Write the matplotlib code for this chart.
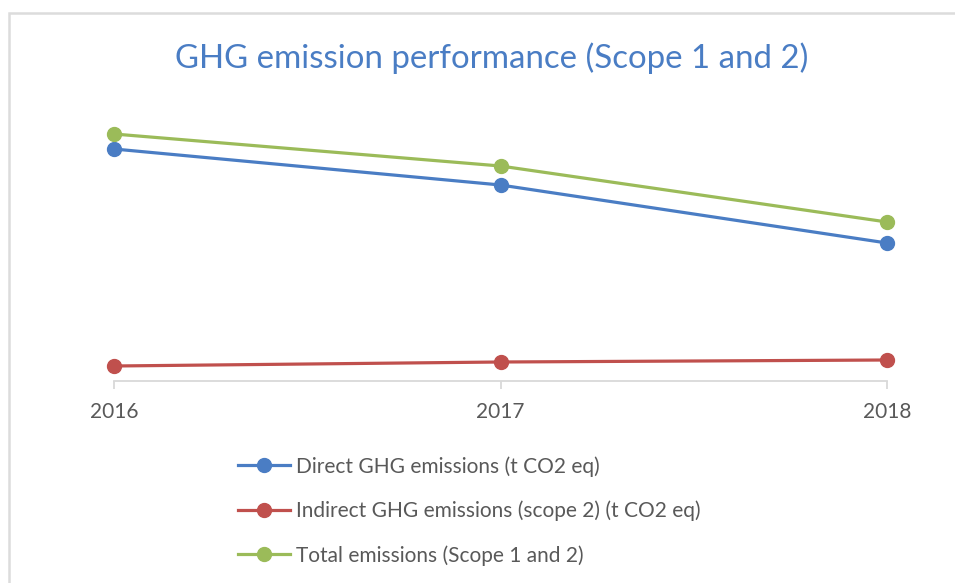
import matplotlib
matplotlib.use('Agg')
import matplotlib.pyplot as plt
from matplotlib.patches import Rectangle

plt.rcParams['font.family'] = ['Lato', 'DejaVu Sans']

# 排放数据 (t CO2 eq)
years = [2016, 2017, 2018]
direct = [23200, 19600, 13800]
indirect = [1500, 1900, 2100]
total = [24700, 21500, 15900]

labels = ['Direct GHG emissions (t CO2 eq)',
          'Indirect GHG emissions (scope 2) (t CO2 eq)',
          'Total emissions (Scope 1 and 2)']
colors = ['#4A7DC4', '#C0504D', '#9BBB59']

W, H = 955, 583
fig = plt.figure(figsize=(W / 100, H / 100), dpi=100)

# 外框
fig.patches.append(Rectangle((9 / W, -0.1), 1.2, (H - 13) / H + 0.1,
                             transform=fig.transFigure, fill=False,
                             edgecolor='#dcdcdc', linewidth=1.8))

ax = fig.add_axes([114 / W, (H - 381) / H, (887 - 114) / W, 300 / H])

for vals, lab, c in zip([direct, indirect, total], labels, colors):
    ax.plot(years, vals, color=c, linewidth=2.3, marker='o',
            markersize=10, label=lab, clip_on=False)

ax.set_xlim(2016, 2018)
ax.set_ylim(0, 30000)
ax.set_xticks(years)
ax.set_xticklabels([str(y) for y in years])
ax.set_yticks([])
for s in ['left', 'right', 'top']:
    ax.spines[s].set_visible(False)
ax.spines['bottom'].set_color('#d9d9d9')
ax.spines['bottom'].set_linewidth(1.3)
ax.tick_params(axis='x', colors='#d9d9d9', length=6, width=1.3,
               labelcolor='#595959', labelsize=15, pad=9)

fig.text(492 / W, 1 - 58 / H, 'GHG emission performance (Scope 1 and 2)',
         ha='center', va='center', color='#4A7DC4', fontsize=23.8)

leg = fig.legend(loc='upper left', bbox_to_anchor=(238 / W, 1 - 456 / H),
                 frameon=False, fontsize=15, labelcolor='#595959',
                 handlelength=2.5, handletextpad=0.3, labelspacing=1.15,
                 borderaxespad=0, borderpad=0)

fig.savefig('out.png', dpi=100, facecolor='white')
